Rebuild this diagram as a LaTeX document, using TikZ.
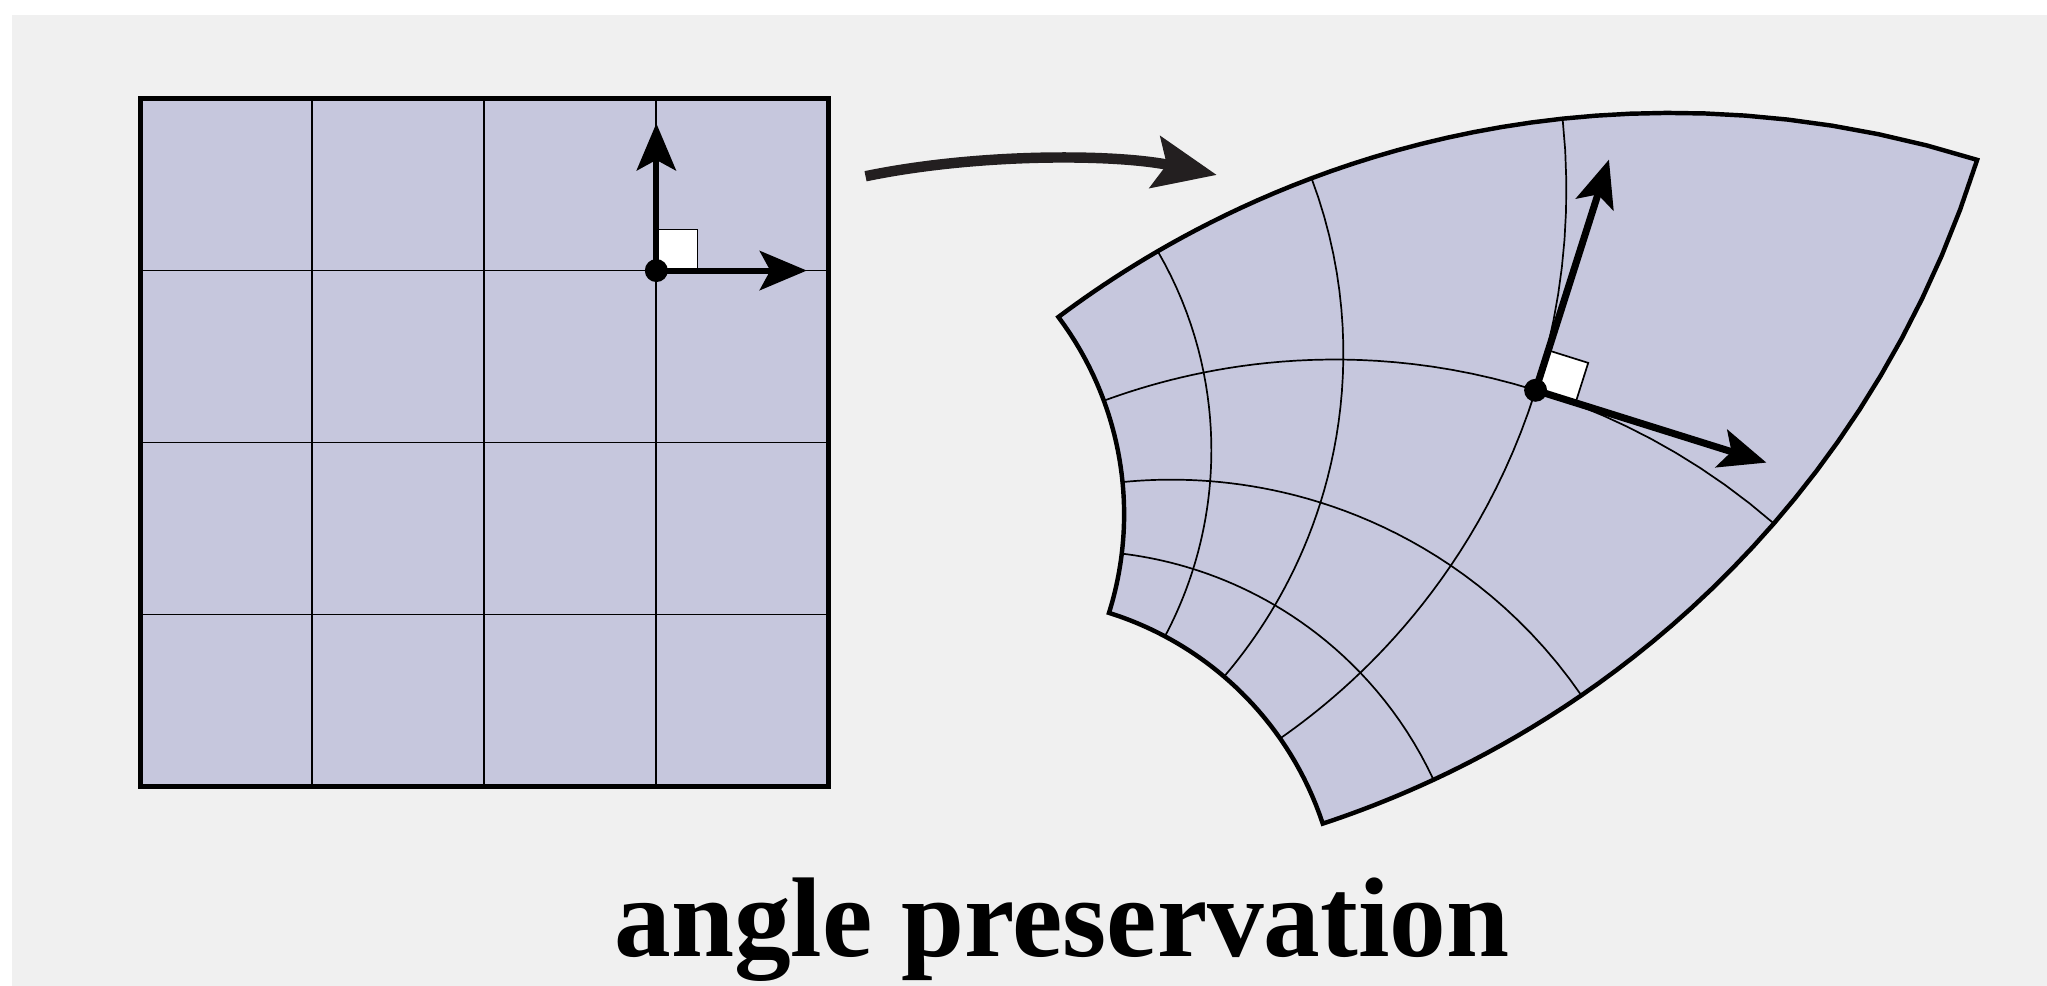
\documentclass[tikz,border=0pt]{standalone}
\usepackage{fontspec}
\setmainfont{Liberation Serif}
\usetikzlibrary{arrows.meta,calc}
\definecolor{bg}{RGB}{240,240,240}
\definecolor{lav}{RGB}{198,199,221}
\definecolor{arrc}{RGB}{35,31,32}
\begin{document}
\begin{tikzpicture}[x=0.5pt,y=-0.5pt,
  declare function={
    mX(\a,\b)=533.6+10*((-89.12*(\a-5.9)-283.62*(\b-5.9))/((\a-5.9)*(\a-5.9)+(\b-5.9)*(\b-5.9)));
    mY(\a,\b)=634.3+10*((283.62*(\a-5.9)-89.12*(\b-5.9))/((\a-5.9)*(\a-5.9)+(\b-5.9)*(\b-5.9)));
  },
  gridline/.style={line width=0.65pt,black},
  frame/.style={line width=1.7pt,black,line join=miter},
  vecL/.style={line width=2.3pt,black,-{Stealth[length=18pt,width=15pt,inset=4pt]}},
  vecR/.style={line width=2.7pt,black,-{Stealth[length=18pt,width=15pt,inset=4pt]}},
  mapsto/.style={line width=4pt,arrc,-{Stealth[length=24pt,width=20pt,inset=4.5pt]}},
  rightangle/.style={fill=white,draw=black,line width=0.65pt},
  dotstyle/.style={fill=black}
]
\useasboundingbox (0,0) rectangle (1568,755);
\fill[white] (0,0) rectangle (1568,755);
\fill[bg] (9.2,11.5) rectangle (1568,755);

% ---------- left square ----------
\coordinate (sqNW) at (107.5,75.5);
\coordinate (sqSE) at (634.5,602.5);
\fill[lav] (sqNW) rectangle (sqSE);
\foreach \i in {1,2,3} {
  \draw[gridline] ({107.5+131.75*\i},75.5) -- ({107.5+131.75*\i},602.5);
  \draw[gridline] (107.5,{75.5+131.75*\i}) -- (634.5,{75.5+131.75*\i});
}
\draw[frame] (sqNW) rectangle (sqSE);

\coordinate (d1) at (502.75,207.25);
\coordinate (u1) at (502.75,94.5);
\coordinate (r1) at (618,207.25);
\draw[rightangle] (d1) rectangle ++(31.5,-31.5);
\draw[vecL] (d1) -- (u1);
\draw[vecL] (d1) -- (r1);
\fill[dotstyle] (d1) circle[radius=4.4pt];

% ---------- mapping arrow ----------
\coordinate (ma) at (663,135);
\coordinate (mb) at (932,134);
\draw[mapsto] (ma) .. controls (750,117) and (855,118) .. (mb);

% ---------- right curved grid ----------
\fill[lav]
  plot[domain=0:4,samples=41] ({mX(\x,0)},{mY(\x,0)})
  -- plot[domain=0:4,samples=41] ({mX(4,\x)},{mY(4,\x)})
  -- plot[domain=4:0,samples=41] ({mX(\x,4)},{mY(\x,4)})
  -- plot[domain=4:0,samples=41] ({mX(0,\x)},{mY(0,\x)}) -- cycle;
\foreach \k in {1,2,3} {
  \draw[gridline] plot[domain=0:4,samples=41] ({mX(\k,\x)},{mY(\k,\x)});
  \draw[gridline] plot[domain=0:4,samples=41] ({mX(\x,\k)},{mY(\x,\k)});
}
\draw[frame]
  plot[domain=0:4,samples=41] ({mX(\x,0)},{mY(\x,0)})
  -- plot[domain=0:4,samples=41] ({mX(4,\x)},{mY(4,\x)})
  -- plot[domain=4:0,samples=41] ({mX(\x,4)},{mY(\x,4)})
  -- plot[domain=4:0,samples=41] ({mX(0,\x)},{mY(0,\x)}) -- cycle;

\coordinate (d2) at ({mX(3,3)},{mY(3,3)});
\coordinate (u2) at ($(d2)+(56.2,-176.7)$);
\coordinate (r2) at ($(d2)+(176.8,55.4)$);
\draw[rightangle] (d2) -- ++(30.6,9.6) -- ++(9.7,-30.6) -- ++(-30.6,-9.6) -- cycle;
\draw[vecR] (d2) -- (u2);
\draw[vecR] (d2) -- (r2);
\fill[dotstyle] (d2) circle[radius=4.4pt];

% ---------- caption ----------
\node[font=\bfseries\fontsize{43.4}{50}\selectfont,anchor=base,inner sep=0pt] (title) at (813.5,733) {angle preservation};
\end{tikzpicture}
\end{document}
